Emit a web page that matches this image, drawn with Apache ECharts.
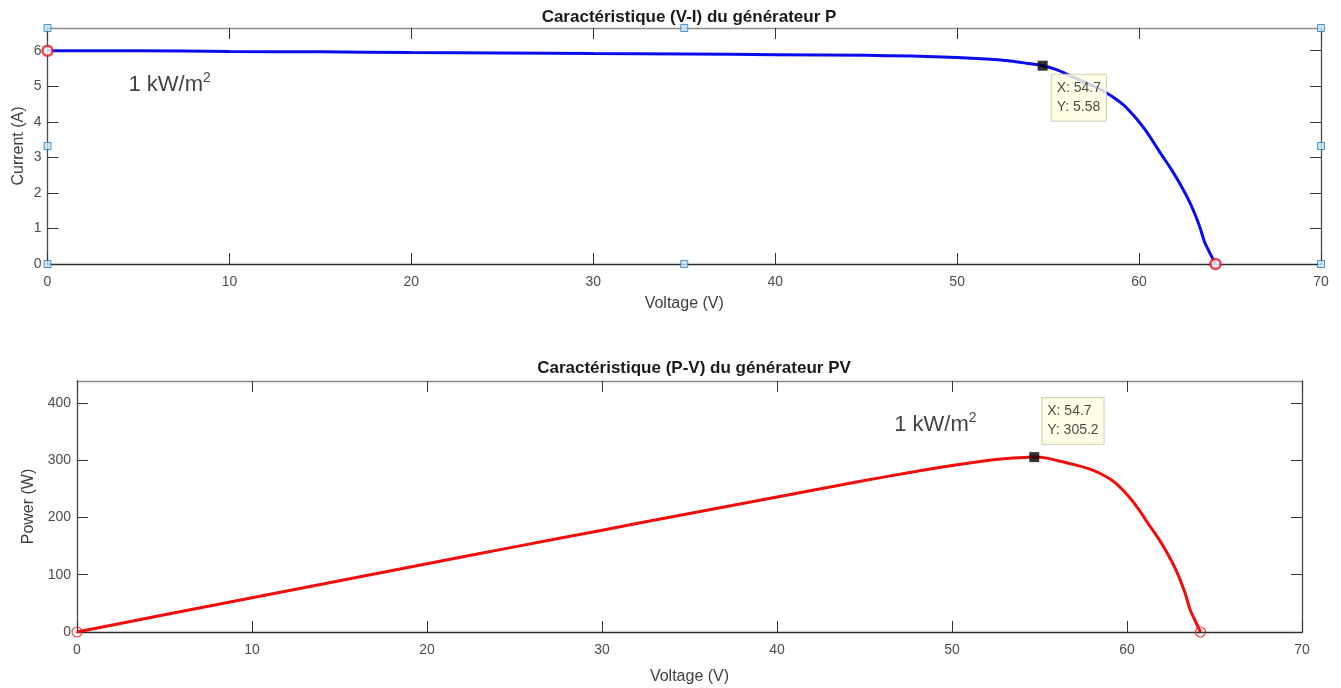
<!DOCTYPE html>
<html>
<head>
<meta charset="utf-8">
<title>Caractéristiques du générateur PV</title>
<script src="https://cdn.jsdelivr.net/npm/echarts@6/dist/echarts.min.js"></script>
<style>
  html, body { margin: 0; padding: 0; background: #fff; }
  #chart { width: 1341px; height: 688px; }
</style>
</head>
<body>
<div id="chart"></div>
<script>
// tension (V)
const voltage = [0, 5, 10, 15, 20, 25, 30, 35, 40, 45, 47.5, 50, 51.6, 52.8, 53.8, 54.7,
  55.5, 56.2, 57, 57.8, 58.5, 59.2, 59.8, 60.3, 60.7, 61.2, 61.7, 62.2, 62.8, 63.3, 63.6, 63.9, 64.2];
// courant (A)
const current = [6.0, 6.0, 5.98, 5.97, 5.95, 5.94, 5.92, 5.91, 5.89, 5.87, 5.85, 5.81, 5.77, 5.72, 5.65, 5.58,
  5.46, 5.3, 5.12, 4.93, 4.72, 4.45, 4.12, 3.8, 3.5, 3.1, 2.72, 2.3, 1.72, 1.1, 0.62, 0.3, 0];
// puissance (W)
const power = [0, 30, 59.8, 89.6, 119, 148.5, 177.6, 206.9, 235.6, 264.2, 277.9, 290.5, 297.7, 302, 304, 305.2,
  303, 297.9, 291.8, 285, 276.1, 263.4, 246.4, 229.1, 212.5, 189.7, 167.8, 143.1, 108, 69.6, 39.4, 19.2, 0];

const voltageTicks = [0, 10, 20, 30, 40, 50, 60, 70];
const currentTicks = [0, 1, 2, 3, 4, 5, 6];
const powerTicks = [0, 100, 200, 300, 400];

// points marqués (curseur de données)
const mppVoltage = 54.7;
const mppCurrent = 5.58;
const mppPower = 305.2;
const vocVoltage = 64.2;
const iscCurrent = 6.0;

const titles = ["Caractéristique (V-I) du générateur P", "Caractéristique (P-V) du générateur PV"];
const irradianceText = "1 kW/m";

const xMax = 70;
const currentMax = 6.64;
const powerMax = 438;

const font = "'Liberation Sans', Arial, sans-serif";
const axisColor = "#4d4d4d";

const myChart = echarts.init(document.getElementById("chart"));

// axes principaux et axes miroirs (cadre MATLAB)
function xAxisOf(grid, pos, main) {
  return {
    type: "value", gridIndex: grid, position: pos, min: 0, max: xMax,
    name: main ? "Voltage (V)" : "", nameLocation: "middle", nameGap: grid === 0 ? 32 : 37,
    nameTextStyle: { fontFamily: font, fontSize: 16, color: "#404040" },
    axisLine: { show: true, onZero: false, lineStyle: { color: pos === "top" ? "#8c8c8c" : "#2b2b2b", width: 1.3 } },
    axisTick: { show: true, inside: true, length: 11, customValues: voltageTicks, lineStyle: { color: "#333" } },
    axisLabel: { show: main, customValues: voltageTicks, margin: 11, fontFamily: font, fontSize: 14, color: axisColor },
    splitLine: { show: false }
  };
}
function yAxisOf(grid, pos, main, max, ticks, name) {
  return {
    type: "value", gridIndex: grid, position: pos, min: 0, max: max,
    name: main ? name : "", nameLocation: "middle", nameGap: grid === 0 ? 21 : 40,
    nameMoveOverlap: false,
    nameTextStyle: { fontFamily: font, fontSize: 16, color: "#404040" },
    axisLine: { show: true, onZero: false, lineStyle: { color: "#4a4a4a", width: 1.3 } },
    axisTick: { show: true, inside: true, length: 11, customValues: ticks, lineStyle: { color: "#333" } },
    axisLabel: { show: main, customValues: ticks, margin: 6, fontFamily: font, fontSize: 14, color: axisColor },
    splitLine: { show: false }
  };
}

const ivData = voltage.map((v, i) => [v, current[i]]);
const pvData = voltage.map((v, i) => [v, power[i]]);

// poignées de sélection autour du premier axe
const handles = [[0, 0], [xMax / 2, 0], [xMax, 0], [0, currentMax / 2], [xMax, currentMax / 2],
  [0, currentMax], [xMax / 2, currentMax], [xMax, currentMax]];

const tipLabel = {
  show: true,
  backgroundColor: "#ffffe1",
  borderColor: "#c9c9b0",
  borderWidth: 1,
  padding: [4, 5],
  fontFamily: font,
  fontSize: 14,
  lineHeight: 19,
  color: "#1a1a1a"
};

const irrLabel = {
  show: true,
  position: "right",
  distance: 0,
  formatter: "{b|" + irradianceText + "}{s|2}",
  rich: {
    b: { fontFamily: font, fontSize: 22, color: "#111", lineHeight: 27 },
    s: { fontFamily: font, fontSize: 14, color: "#111", lineHeight: 27, verticalAlign: "top" }
  }
};

const options = {
  animation: false,
  title: [
    { text: titles[0], left: 684, top: 4, textAlign: "center",
      textStyle: { fontFamily: font, fontSize: 17, fontWeight: "bold", color: "#1a1a1a" } },
    { text: titles[1], left: 689, top: 355, textAlign: "center",
      textStyle: { fontFamily: font, fontSize: 17, fontWeight: "bold", color: "#1a1a1a" } }
  ],
  grid: [
    { left: 47.5, right: 20, top: 28, height: 236, containLabel: false, outerBoundsMode: "none" },
    { left: 77, right: 39, top: 381, height: 251, containLabel: false, outerBoundsMode: "none" }
  ],
  xAxis: [
    xAxisOf(0, "bottom", true), xAxisOf(0, "top", false),
    xAxisOf(1, "bottom", true), xAxisOf(1, "top", false)
  ],
  yAxis: [
    yAxisOf(0, "left", true, currentMax, currentTicks, "Current (A)"),
    yAxisOf(0, "right", false, currentMax, currentTicks, ""),
    yAxisOf(1, "left", true, powerMax, powerTicks, "Power (W)"),
    yAxisOf(1, "right", false, powerMax, powerTicks, "")
  ],
  series: [
    {
      type: "scatter", xAxisIndex: 0, yAxisIndex: 0, data: handles, clip: false,
      symbol: "rect", symbolSize: 7, z: 6,
      itemStyle: { color: "#bfe2f7", borderColor: "#2b7bbd", borderWidth: 1 }
    },
    {
      type: "line", xAxisIndex: 0, yAxisIndex: 0, data: ivData, showSymbol: false, smooth: 0.2,
      lineStyle: { color: "#0b0bf0", width: 3 }, z: 3
    },
    {
      type: "scatter", xAxisIndex: 0, yAxisIndex: 0, clip: false,
      data: [[0, iscCurrent], [vocVoltage, 0]],
      symbol: "circle", symbolSize: 10, z: 4,
      itemStyle: { color: "#fff", borderColor: "#e8131b", borderWidth: 2.5 }
    },
    {
      type: "scatter", xAxisIndex: 0, yAxisIndex: 0,
      data: [[mppVoltage, mppCurrent]],
      symbol: "rect", symbolSize: 10, z: 5,
      itemStyle: { color: "#000" },
      label: Object.assign({}, tipLabel, {
        position: [14, 14],
        formatter: (p) => "X: " + p.value[0] + "\nY: " + p.value[1]
      })
    },
    {
      type: "scatter", xAxisIndex: 0, yAxisIndex: 0, data: [[4.45, 5.05]],
      symbolSize: 0, label: irrLabel, silent: true
    },
    {
      type: "line", xAxisIndex: 2, yAxisIndex: 2, data: pvData, showSymbol: false, smooth: 0.2,
      lineStyle: { color: "#f20d0d", width: 3 }, z: 3
    },
    {
      type: "scatter", xAxisIndex: 2, yAxisIndex: 2, clip: false,
      data: [[0, 0], [vocVoltage, 0]],
      symbol: "circle", symbolSize: 10, z: 4,
      itemStyle: { color: "rgba(255,255,255,0)", borderColor: "#e01a1a", borderWidth: 1.2 }
    },
    {
      type: "scatter", xAxisIndex: 2, yAxisIndex: 2,
      data: [[mppVoltage, mppPower]],
      symbol: "rect", symbolSize: 10, z: 5,
      itemStyle: { color: "#000" },
      label: Object.assign({}, tipLabel, {
        position: [13, -54],
        formatter: (p) => "X: " + p.value[0] + "\nY: " + p.value[1]
      })
    },
    {
      type: "scatter", xAxisIndex: 2, yAxisIndex: 2, data: [[46.7, 362]],
      symbolSize: 0, label: irrLabel, silent: true
    }
  ]
};

myChart.setOption(options);
</script>
</body>
</html>
